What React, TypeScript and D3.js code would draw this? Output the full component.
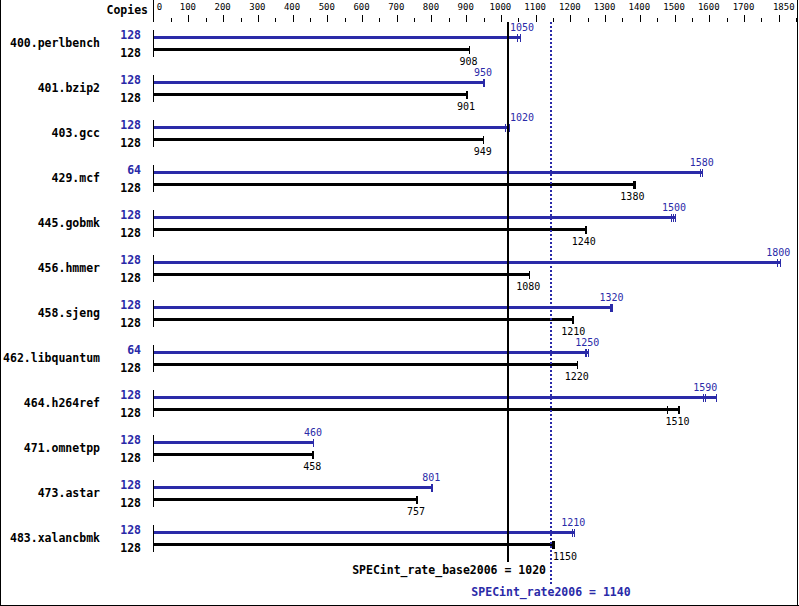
import React from "react";
import * as d3 from "d3";

const benchmarks = ["400.perlbench", "401.bzip2", "403.gcc", "429.mcf", "445.gobmk", "456.hmmer", "458.sjeng", "462.libquantum", "464.h264ref", "471.omnetpp", "473.astar", "483.xalancbmk"];
const peakCopies = [128, 128, 128, 64, 128, 128, 128, 64, 128, 128, 128, 128];
const baseCopies = [128, 128, 128, 128, 128, 128, 128, 128, 128, 128, 128, 128];
const peakScores = [1050, 950, 1020, 1580, 1500, 1800, 1320, 1250, 1590, 460, 801, 1210];
const baseScores = [908, 901, 949, 1380, 1240, 1080, 1210, 1220, 1510, 458, 757, 1150];
const peakRuns = [
  [1045, 1046, 1055], [948, 950, 950], [1011, 1022, 1023], [1572, 1578, 1580],
  [1491, 1496, 1500], [1794, 1796, 1804], [1314, 1318, 1320], [1242, 1246, 1250],
  [1581, 1589, 1620], [458, 459, 460], [800, 801, 801], [1206, 1210, 1211],
];
const baseRuns = [
  [907, 908, 908], [899, 901, 902], [948, 949, 949], [1381, 1383, 1385],
  [1241, 1243, 1244], [1080, 1081, 1081], [1206, 1207, 1208], [1219, 1220, 1220],
  [1479, 1510, 1513], [456, 458, 458], [756, 757, 758], [1146, 1150, 1153],
];
const baseOverall = 1020;
const peakOverall = 1140;
const axisMax = 1850;
const tickStep = 50;
const labelStep = 100;

const BLUE = "#2a2aa8";
const FONT = "DejaVu Sans Mono";

export default function App() {
  const x = d3.scaleLinear().domain([0, axisMax]).range([154.2, 796.6]);
  const px = (v: number) => Math.floor(x(v)) + 0.5;
  const rowY = (i: number) => 37.5 + i * 45;
  const ticks = d3.range(0, axisMax + 1, tickStep);
  const labelTicks = d3.range(0, axisMax - labelStep + 1, labelStep).filter((v) => v + labelStep <= axisMax - 1 || v === 0);
  const xb = Math.round(x(baseOverall));
  const xp = Math.floor(x(peakOverall)) + 1;
  const refLines = [xb, xp];
  const valFont = 10;
  const charW = valFont * 0.602;

  const placeLabel = (v: number, text: string) => {
    const xv = x(v);
    const w = text.length * charW;
    let start = xv - 1 - w / 2;
    for (const L of refLines) {
      if (start < L + 1.5 && start + w > L - 1.5) {
        if (xv >= L - 1) start = L + 2;
        else start = L - 2 - w;
      }
    }
    return start;
  };

  const renderBar = (runs: number[], score: number, y: number, color: string, above: boolean, key: string) => {
    const maxRun = d3.max(runs) as number;
    const label = String(score);
    const lx = placeLabel(score, label);
    return (
      <g key={key}>
        <line x1={x(0)} x2={px(maxRun) + 0.5} y1={y} y2={y} stroke={color} strokeWidth={3} shapeRendering="crispEdges" />
        {runs.map((r, j) => (
          <line key={j} x1={px(r)} x2={px(r)} y1={y - 4} y2={y + 4} stroke={color} strokeWidth={1} shapeRendering="crispEdges" />
        ))}
        <text x={lx} y={above ? y - 7 : y + 15} fill={color} fontFamily={FONT} fontSize={valFont}>{label}</text>
      </g>
    );
  };

  return (
    <svg width={799} height={606} style={{ position: "absolute", left: 0, top: 0, background: "#fff" }} fontFamily={FONT}>
      <rect x={0} y={0} width={799} height={606} fill="#fff" />
      <line x1={0.5} x2={0.5} y1={0} y2={606} stroke="#000" shapeRendering="crispEdges" />
      <line x1={797.5} x2={797.5} y1={0} y2={606} stroke="#000" shapeRendering="crispEdges" />
      <line x1={0} x2={799} y1={605.5} y2={605.5} stroke="#000" shapeRendering="crispEdges" />

      <text x={148} y={14} textAnchor="end" fontWeight="bold" fontSize={11.5} fill="#000">Copies</text>
      <line x1={153.5} x2={153.5} y1={0} y2={22} stroke="#000" shapeRendering="crispEdges" />
      {ticks.map((v) => {
        const tx = px(v);
        const major = v % labelStep === 0;
        return v === 0 ? null : (
          <line key={v} x1={tx} x2={tx} y1={major ? 15 : 18} y2={22} stroke="#000" shapeRendering="crispEdges" />
        );
      })}
      {labelTicks.map((v) => (
        <text key={v} x={v === 0 ? x(v) + 2.5 : x(v) - 1} y={10} textAnchor={v === 0 ? "start" : "middle"} fontSize={9} fill="#000">{v}</text>
      ))}
      <text x={x(axisMax) - 2} y={10} textAnchor="end" fontSize={9} fill="#000">{axisMax}</text>

      {benchmarks.map((name, i) => {
        const yb = rowY(i);
        const yk = yb + 12;
        return (
          <g key={name}>
            <text x={100} y={yb + 9} textAnchor="end" fontWeight="bold" fontSize={11.5} fill="#000">{name}</text>
            <text x={141} y={yb + 1.5} textAnchor="end" fontWeight="bold" fontSize={11.5} fill={BLUE}>{peakCopies[i]}</text>
            <text x={141} y={yk + 7} textAnchor="end" fontWeight="bold" fontSize={11.5} fill="#000">{baseCopies[i]}</text>
            <line x1={153.5} x2={153.5} y1={yb - 7.5} y2={yk + 7.5} stroke="#000" shapeRendering="crispEdges" />
            {renderBar(peakRuns[i], peakScores[i], yb, BLUE, true, "p")}
            {renderBar(baseRuns[i], baseScores[i], yk, "#000", false, "b")}
          </g>
        );
      })}

      <line x1={xb} x2={xb} y1={22} y2={562} stroke="#000" strokeWidth={2} shapeRendering="crispEdges" />
      <line x1={xp} x2={xp} y1={22} y2={584} stroke={BLUE} strokeWidth={2} strokeDasharray="2,2" shapeRendering="crispEdges" />
      <text x={xp - 5} y={574} textAnchor="end" fontWeight="bold" fontSize={11.5} fill="#000">SPECint_rate_base2006 = {baseOverall}</text>
      <text x={xp} y={596} textAnchor="middle" fontWeight="bold" fontSize={11.5} fill={BLUE}>SPECint_rate2006 = {peakOverall}</text>
    </svg>
  );
}
